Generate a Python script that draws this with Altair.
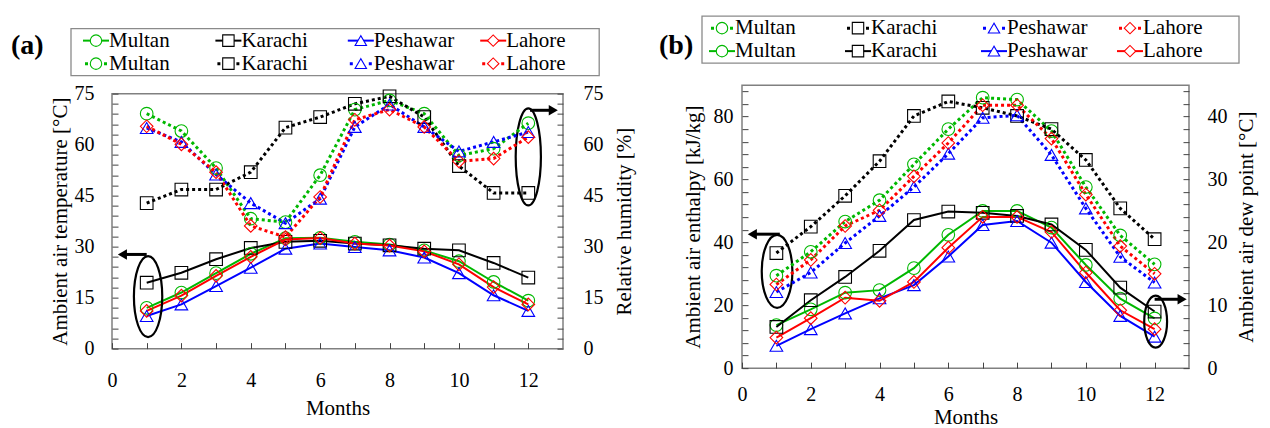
import altair as alt
import pandas as pd

MONTHS = list(range(1, 13))
CITIES = ["Multan", "Karachi", "Peshawar", "Lahore"]
COLORS = ["#00B800", "#000000", "#0000FF", "#FF0000"]
SHAPES = ["circle", "square", "triangle-up", "diamond"]

# ---- Panel (a): ambient air temperature [°C] (solid lines)
TEMP_MULTAN = [12.0, 16.5, 22.2, 27.9, 32.5, 32.6, 31.4, 30.6, 28.9, 25.7, 19.6, 14.1]
TEMP_KARACHI = [19.4, 22.3, 26.3, 29.6, 31.4, 31.7, 30.9, 30.4, 29.4, 28.9, 25.2, 20.9]
TEMP_PESHAWAR = [9.6, 13.0, 18.4, 23.8, 29.4, 30.9, 29.9, 28.9, 26.8, 22.2, 15.7, 11.1]
TEMP_LAHORE = [11.1, 15.6, 21.4, 27.0, 32.1, 32.5, 30.9, 30.3, 28.6, 24.8, 18.1, 13.0]
# ---- Panel (a): relative humidity [%] (dotted lines)
RH_MULTAN = [69.1, 64.0, 53.1, 38.2, 37.2, 51.0, 70.3, 73.0, 69.1, 56.8, 58.8, 66.3]
RH_KARACHI = [42.8, 46.8, 46.8, 51.9, 65.0, 68.1, 72.0, 74.2, 68.1, 53.7, 45.8, 45.8]
RH_PESHAWAR = [64.9, 60.8, 51.2, 42.8, 36.9, 44.1, 65.2, 71.8, 65.2, 58.0, 60.8, 63.7]
RH_LAHORE = [65.4, 60.1, 51.9, 36.1, 32.8, 44.6, 67.3, 70.3, 65.2, 55.1, 55.9, 62.2]
# ---- Panel (b): ambient air enthalpy [kJ/kg] (solid lines)
ENTH_MULTAN = [13.7, 18.7, 24.0, 24.8, 31.8, 42.4, 50.0, 50.0, 44.7, 32.8, 22.1, 15.8]
ENTH_KARACHI = [13.1, 21.6, 29.0, 37.3, 47.1, 49.8, 49.4, 48.4, 45.7, 37.6, 25.6, 18.0]
ENTH_PESHAWAR = [7.1, 12.4, 17.4, 22.2, 26.4, 35.5, 45.5, 46.8, 39.9, 27.4, 16.6, 10.0]
ENTH_LAHORE = [9.7, 15.9, 22.4, 21.4, 27.4, 38.3, 48.1, 48.1, 43.3, 30.4, 18.4, 12.4]
# ---- Panel (b): ambient air dew point [°C] (dotted lines)
DEW_MULTAN = [14.7, 18.5, 23.3, 26.7, 32.4, 38.0, 43.0, 42.7, 37.7, 28.8, 21.1, 16.5]
DEW_KARACHI = [18.3, 22.5, 27.4, 32.9, 40.1, 42.4, 41.4, 40.1, 38.0, 33.1, 25.4, 20.5]
DEW_PESHAWAR = [12.1, 15.2, 19.9, 24.2, 28.8, 34.1, 39.8, 40.2, 33.9, 25.4, 17.7, 13.6]
DEW_LAHORE = [13.3, 17.2, 22.6, 25.1, 30.5, 35.8, 41.8, 41.8, 36.5, 27.6, 19.4, 15.0]

# ---- annotation ellipses and arrows (month, value on the left axis)
A_ELLIPSE_MONTH = [1.04, 12.0]
A_ELLIPSE_VALUE = [15.3, 56.4]
A_ARROW_FROM = [1.0, 12.05]
A_ARROW_TO = [0.3, 12.72]
A_ARROW_VALUE = [27.7, 70.1]
B_ELLIPSE_MONTH = [1.02, 12.03]
B_ELLIPSE_VALUE = [30.8, 14.8]
B_ARROW_FROM = [1.1, 12.0]
B_ARROW_TO = [0.3, 12.8]
B_ARROW_VALUE = [42.6, 21.9]

FONT = "Liberation Serif"


def long_df(series):
    rows = []
    for city, vals in zip(CITIES, series):
        for m, v in zip(MONTHS, vals):
            rows.append({"city": city, "month": m, "value": v})
    return pd.DataFrame(rows)


def ellipse_path(ratio):
    return f"M0,-1A{ratio},1 0 1,1 0,1A{ratio},1 0 1,1 0,-1Z"


color_enc = alt.Color("city:N", scale=alt.Scale(domain=CITIES, range=COLORS), legend=None)
shape_enc = alt.Shape("city:N", scale=alt.Scale(domain=CITIES, range=SHAPES), legend=None)


def panel(cfg):
    W, H = cfg["W"], cfg["H"]
    xs = alt.Scale(domain=[0, 13], nice=False, zero=False)
    xaxis = alt.Axis(values=list(range(0, 13)),
                     labelExpr="datum.value % 2 === 0 ? datum.label : ''",
                     title="Months", grid=True, gridDash=[6, H - 6], gridDashOffset=6,
                     gridColor="#444444", gridWidth=1, gridOpacity=1,
                     ticks=False, tickSize=0, domain=False, labelFlush=False, labelOverlap=False,
                     labelPadding=cfg["x_lp"], titlePadding=cfg["x_tp"],
                     labelFontSize=20, titleFontSize=21, labelFont=FONT, titleFont=FONT,
                     titleFontWeight="normal", labelColor="black", titleColor="black")

    def X(field):
        return alt.X(f"{field}:Q", scale=xs, axis=xaxis)

    lys = alt.Scale(domain=[0, cfg["ltop"]], nice=False)
    lax = alt.Axis(values=cfg["l_vals"],
                   labelExpr=f"datum.value % {cfg['l_major']} === 0 ? datum.label : ''",
                   title=cfg["l_title"], grid=True, gridDash=[6, W - 12, 6, 0],
                   gridColor="#444444", gridWidth=1, gridOpacity=1,
                   ticks=False, tickSize=0, domain=False, labelOverlap=False,
                   labelPadding=cfg["l_lp"], titlePadding=cfg["l_tp"],
                   labelFontSize=20, titleFontSize=21, labelFont=FONT, titleFont=FONT,
                   titleFontWeight="normal", labelColor="black", titleColor="black")

    def YL(field="value"):
        return alt.Y(f"{field}:Q", scale=lys, axis=lax)

    rys = alt.Scale(domain=[0, cfg["rtop"]], nice=False)
    rax = alt.Axis(orient="right", values=cfg["r_vals"], title=cfg["r_title"], grid=False,
                   ticks=False, tickSize=0, domain=False, labelOverlap=False,
                   labelPadding=cfg["r_lp"], titlePadding=cfg["r_tp"],
                   titleAngle=270, titleBaseline="top",
                   labelFontSize=20, titleFontSize=21, labelFont=FONT, titleFont=FONT,
                   titleFontWeight="normal", labelColor="black", titleColor="black")

    ldf = long_df(cfg["left"])
    rdf = long_df(cfg["right"])

    left_layers = [
        alt.Chart(ldf).mark_line(strokeWidth=2).encode(x=X("month"), y=YL(), color=color_enc),
        alt.Chart(ldf).mark_point(filled=False, size=160, strokeWidth=1.1, opacity=1).encode(
            x=X("month"), y=YL(), color=color_enc, shape=shape_enc),
    ]
    for m, v, ratio, size in zip(cfg["ell_m"], cfg["ell_v"], cfg["ell_ratio"], cfg["ell_size"]):
        left_layers.append(
            alt.Chart(pd.DataFrame({"month": [m], "value": [v]})).mark_point(
                shape=ellipse_path(ratio), size=size, filled=False, stroke="black",
                strokeWidth=2.2, opacity=1).encode(x=X("month"), y=YL()))
    for m0, m1, v in zip(cfg["arr_from"], cfg["arr_to"], cfg["arr_v"]):
        adf = pd.DataFrame({"month": [m0], "month2": [m1], "value": [v]})
        head = "triangle-left" if m1 < m0 else "triangle-right"
        left_layers.append(alt.Chart(adf).mark_rule(strokeWidth=3, color="black").encode(
            x=X("month"), x2="month2:Q", y=YL()))
        left_layers.append(alt.Chart(adf).mark_point(shape=head, filled=True, size=110,
                                                     color="black", opacity=1).encode(
            x=X("month2"), y=YL()))

    right_layers = [
        alt.Chart(rdf).mark_line(strokeWidth=3, strokeDash=[3, 3]).encode(
            x=X("month"), y=alt.Y("value:Q", scale=rys, axis=rax), color=color_enc),
        alt.Chart(rdf).mark_point(filled=False, size=160, strokeWidth=1.1, opacity=1).encode(
            x=X("month"), y=alt.Y("value:Q", scale=rys, axis=rax), color=color_enc, shape=shape_enc),
    ]

    inner = alt.layer(alt.layer(*left_layers), alt.layer(*right_layers)).resolve_scale(y="independent")

    # ---- legend block drawn above the plot area
    lg = cfg["legend"]
    lgx = alt.Scale(domain=[0, 4], range=[lg["m0"], lg["m0"] + 4 * lg["sp"]], nice=False, zero=False)
    lgy = alt.Scale(domain=[0, 1], range=[lg["r0"], lg["r1"]], nice=False, zero=False)

    def LX(f):
        return alt.X(f"{f}:Q", scale=lgx, axis=None)

    def LY(f):
        return alt.Y(f"{f}:Q", scale=lgy, axis=None)

    rows = []
    for r, style in enumerate(lg["styles"]):
        for c, city in enumerate(CITIES):
            rows.append({"row": r, "col": c, "city": city, "label": city, "style": style})
    lgdf = pd.DataFrame(rows)
    boxdf = pd.DataFrame({"c0": [0], "c1": [len(CITIES) - 1], "r0": [0], "r1": [1]})
    legend_layers = [
        alt.Chart(boxdf).mark_rect(fill="white", stroke="#8a8a8a", strokeWidth=1.3,
                                   xOffset=lg["bx0"], x2Offset=lg["bx1"], yOffset=-12, y2Offset=12).encode(
            x=LX("c0"), x2="c1:Q", y=LY("r0"), y2="r1:Q"),
        alt.Chart(lgdf).transform_filter("datum.style == 'solid'").mark_rule(
            strokeWidth=2, xOffset=-13, x2Offset=13).encode(
            x=LX("col"), x2="col:Q", y=LY("row"), color=color_enc),
        alt.Chart(lgdf).transform_filter("datum.style == 'dotted'").mark_rule(
            strokeWidth=3, strokeDash=[3, 16], xOffset=-11, x2Offset=11).encode(
            x=LX("col"), x2="col:Q", y=LY("row"), color=color_enc),
        alt.Chart(lgdf).mark_point(filled=False, fill="white", size=130, strokeWidth=1.1, opacity=1).encode(
            x=LX("col"), y=LY("row"), color=color_enc, shape=shape_enc),
        alt.Chart(lgdf).mark_text(align="left", baseline="middle", dx=13, fontSize=21, font=FONT,
                                  color="black").encode(x=LX("col"), y=LY("row"), text="label:N"),
        # panel tag "(a)" / "(b)"
        alt.Chart(pd.DataFrame({"tag": [cfg["label"]]})).mark_text(
            align="left", baseline="middle", fontSize=28, fontWeight="bold", font=FONT,
            color="black").encode(x=alt.value(cfg["tag_x"]), y=alt.value(cfg["tag_y"]), text="tag:N"),
    ]
    legend = alt.layer(*legend_layers)

    return alt.layer(inner, legend).resolve_scale(x="independent", y="independent").properties(
        width=W, height=H)


cfg_a = dict(
    label="(a)", W=451, H=255, ltop=75, rtop=75,
    left=[TEMP_MULTAN, TEMP_KARACHI, TEMP_PESHAWAR, TEMP_LAHORE],
    right=[RH_MULTAN, RH_KARACHI, RH_PESHAWAR, RH_LAHORE],
    l_vals=list(range(0, 76, 3)), l_major=15, l_title="Ambient air temperature [°C]",
    r_vals=[0, 15, 30, 45, 60, 75], r_title="Relative humidity [%]",
    x_lp=22, x_tp=7, l_lp=18, l_tp=4, r_lp=20, r_tp=10,
    ell_m=A_ELLIPSE_MONTH, ell_v=A_ELLIPSE_VALUE, ell_ratio=[0.35, 0.26], ell_size=[6561, 9409],
    arr_from=A_ARROW_FROM, arr_to=A_ARROW_TO, arr_v=A_ARROW_VALUE,
    legend=dict(m0=-16, sp=132.4, r0=-53, r1=-30, styles=["solid", "dotted"], bx0=-25, bx1=106),
    tag_x=-101, tag_y=-48,
)
cfg_b = dict(
    label="(b)", W=447, H=283, ltop=90, rtop=45,
    left=[ENTH_MULTAN, ENTH_KARACHI, ENTH_PESHAWAR, ENTH_LAHORE],
    right=[DEW_MULTAN, DEW_KARACHI, DEW_PESHAWAR, DEW_LAHORE],
    l_vals=list(range(0, 90, 4)), l_major=20, l_title="Ambient air enthalpy [kJ/kg]",
    r_vals=[0, 10, 20, 30, 40], r_title="Ambient air dew point [°C]",
    x_lp=16, x_tp=2, l_lp=9, l_tp=10, r_lp=18, r_tp=8,
    ell_m=B_ELLIPSE_MONTH, ell_v=B_ELLIPSE_VALUE, ell_ratio=[0.42, 0.44], ell_size=[5329, 2704],
    arr_from=B_ARROW_FROM, arr_to=B_ARROW_TO, arr_v=B_ARROW_VALUE,
    legend=dict(m0=-20, sp=136, r0=-57, r1=-34, styles=["dotted", "solid"], bx0=-20, bx1=109),
    tag_x=-83, tag_y=-39,
)

chart = alt.hconcat(panel(cfg_a), panel(cfg_b), spacing=23, center=True).properties(
    padding={"left": 2, "top": 6, "right": 5, "bottom": 0}
).configure(font=FONT).configure_view(stroke="#808080", strokeWidth=1.5)

chart.save("out.html", embed_options={"renderer": "svg", "actions": False})
